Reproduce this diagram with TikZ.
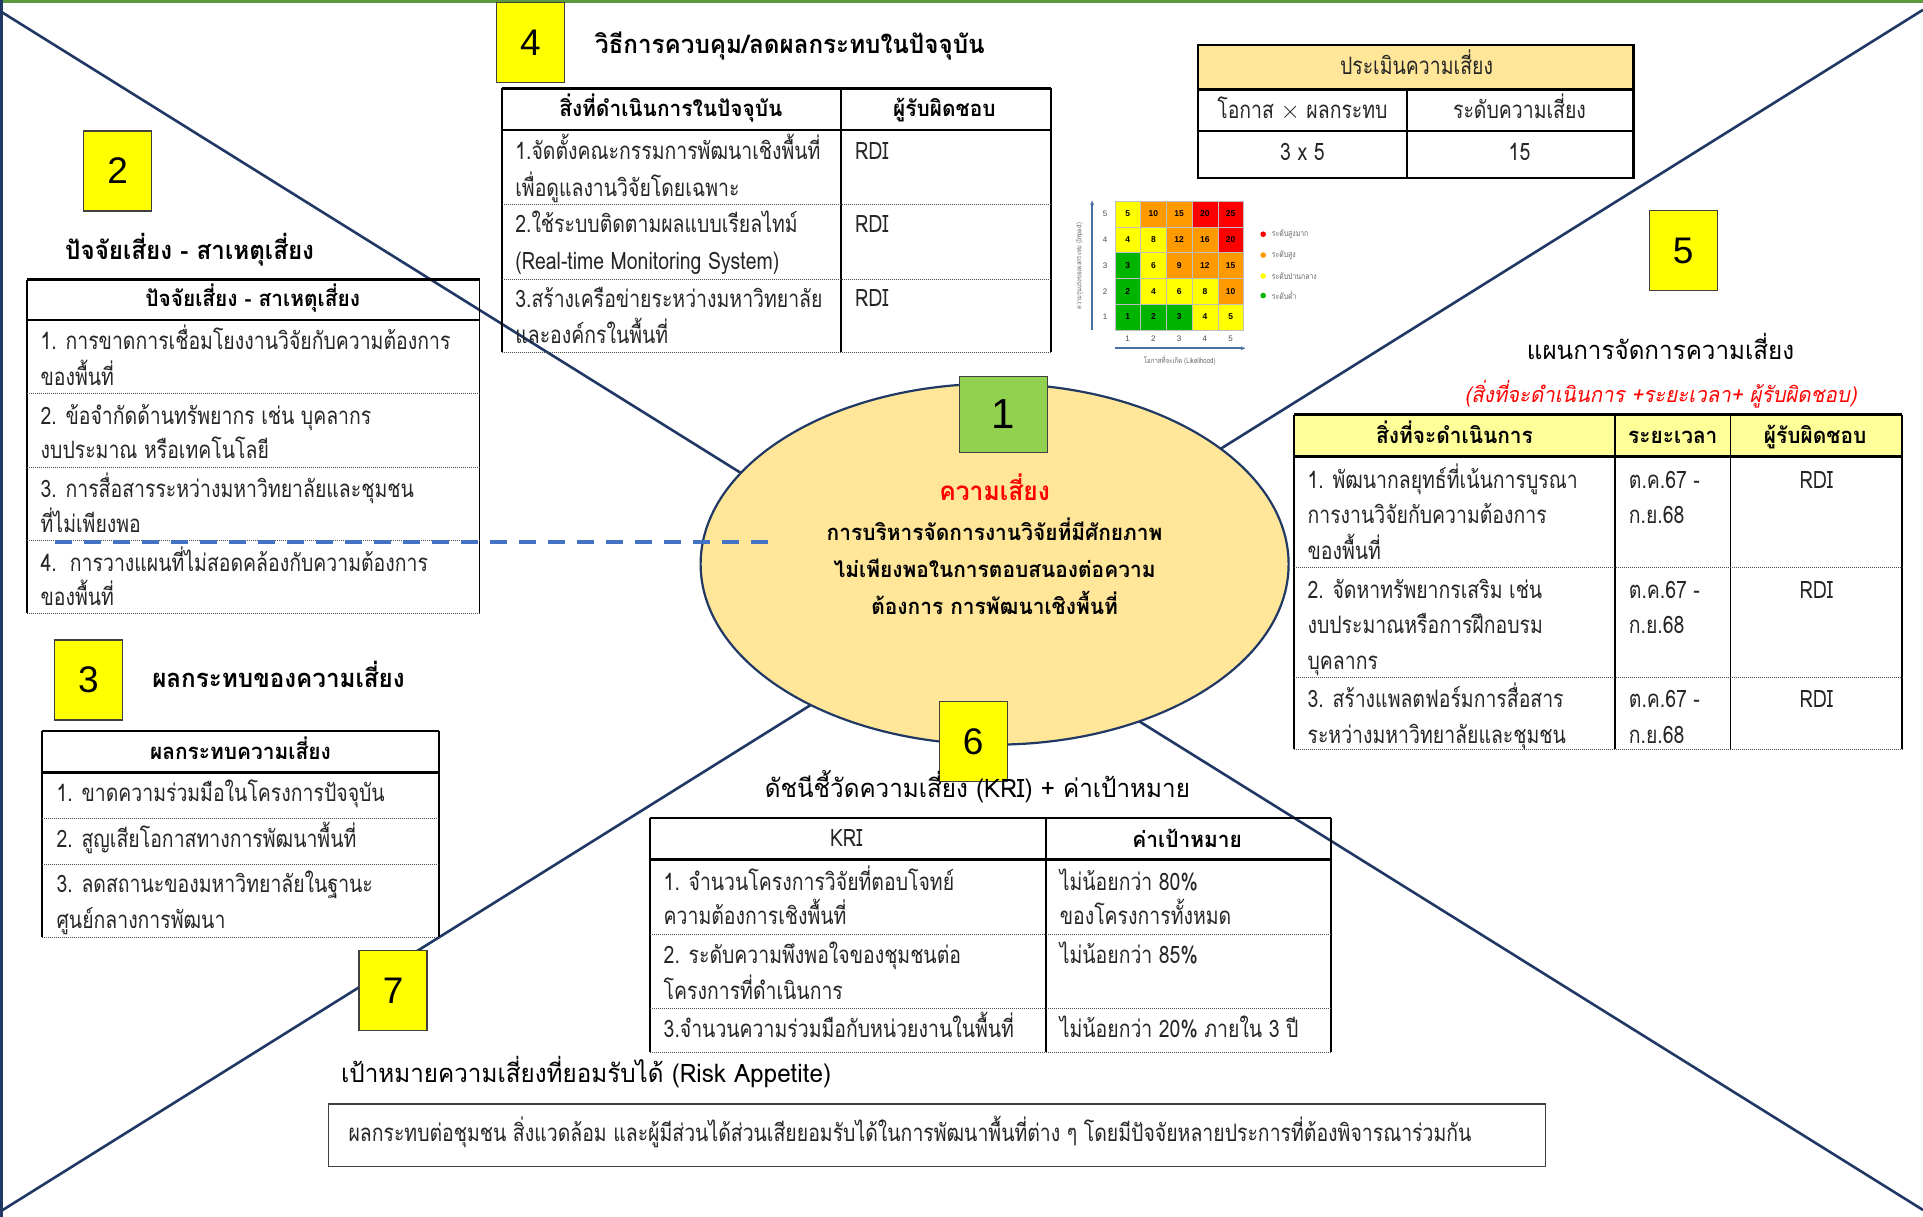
\documentclass[tikz,border=0pt]{standalone}
\usepackage{fontspec}
\setmainfont{Loma}[Script=Thai]
\newfontfamily\thaiN{Loma}[Script=Thai,FakeStretch=0.81]
\newfontfamily\thaiH{Loma}[Script=Thai,FakeStretch=0.95]
\newfontfamily\arl{Liberation Sans}
\usetikzlibrary{shapes.geometric,arrows.meta}
\definecolor{navy}{HTML}{1F3864}
\definecolor{ellfill}{HTML}{FFE699}
\definecolor{hdrY}{HTML}{FFFF99}
\definecolor{boxG}{HTML}{92D050}
\definecolor{dashB}{HTML}{4472C4}
\definecolor{topG}{HTML}{5A9A3C}
\definecolor{mY}{HTML}{FFFF00}
\definecolor{mO}{HTML}{FF9900}
\definecolor{mR}{HTML}{FF0000}
\definecolor{mG}{HTML}{00B400}
\definecolor{axisB}{HTML}{4A6FA5}
\definecolor{txtc}{HTML}{262626}
\newcommand\bodyf{\thaiN\fontsize{24}{28}\selectfont}
\newcommand\headf{\thaiH\bfseries\fontsize{22}{26}\selectfont}
\newcommand\titlef{\thaiH\bfseries\fontsize{25.5}{30}\selectfont}
\newcommand\titlerf{\thaiH\fontsize{25.5}{30}\selectfont}
\begin{document}
\begin{tikzpicture}[x=1.2264pt,y=-1.2264pt,
  every node/.style={inner sep=0pt},
  tx/.style={text height=0.5em, text depth=0pt, yshift=-6pt},
  bt/.style={tx, font=\bodyf, text=txtc, anchor=west},
  bc/.style={bt, anchor=center},
  hd/.style={tx, font=\headf, text=black, anchor=center},
  ttl/.style={tx, font=\titlef, text=black, anchor=west},
  tb/.style={line width=1.8pt, black},
  tth/.style={line width=2.6pt, black},
  tdot/.style={line width=0.9pt, black!70, dash pattern=on 1pt off 1pt},
  xline/.style={navy, line width=2.6pt},
  numbox/.style={draw=black!75, line width=1.3pt, fill=mY, minimum width=68pt, minimum height=80pt, font=\arl\fontsize{37}{37}\selectfont},
  mnum/.style={font=\arl\bfseries\fontsize{8.5}{9}\selectfont},
  axn/.style={font=\arl\fontsize{8}{9}\selectfont, text=black!70},
  lgd/.style={font=\thaiN\fontsize{8.5}{9}\selectfont, text=black!60, anchor=west}
]
\useasboundingbox (0,0) rectangle (1568,992.3);
% frame lines
\coordinate (fTL) at (0,0); \coordinate (fTR) at (1568,0); \coordinate (fBL) at (0,992.3);
\draw[topG, line width=6pt] (fTL) -- (fTR);
\draw[navy, line width=5pt] (fTL) -- (fBL);
% X lines
\coordinate (xa1) at (0,9); \coordinate (xa2) at (1568,986.6);
\coordinate (xb1) at (0,988); \coordinate (xb2) at (1568,8);
\draw[xline] (xa1) -- (xa2);
\draw[xline] (xb1) -- (xb2);

% central ellipse
\node[ellipse, draw=navy, fill=ellfill, line width=2.2pt, minimum width=588pt, minimum height=361pt] (ell) at (811,460) {};
\node[tx, font=\thaiH\bfseries\fontsize{26}{30}\selectfont, text=mR] (risk) at (811,401) {ความเสี่ยง};
\node[hd] (r1) at (811,434) {การบริหารจัดการงานวิจัยที่มีศักยภาพ};
\node[hd] (r2) at (811,464) {ไม่เพียงพอในการตอบสนองต่อความ};
\node[hd] (r3) at (811,494) {ต้องการ การพัฒนาเชิงพื้นที่};
\node[numbox, fill=boxG, minimum width=88pt, minimum height=76pt, font=\arl\fontsize{42}{42}\selectfont] (b1) at (818,338) {1};

% ---------- section 4 ----------
\node[numbox] (b4) at (432.5,34.5) {4};
\node[ttl] (t4) at (485,37) {วิธีการควบคุม/ลดผลกระทบในปัจจุบัน};
\draw[tth] (409,72) -- (857,72);
\draw[tb] (409,72) -- (409,287);
\draw[tb] (686,72) -- (686,287);
\draw[tb] (857,72) -- (857,287);
\draw[tth] (409,106) -- (857,106);
\draw[tdot] (409,167) -- (857,167);
\draw[tdot] (409,228) -- (857,228);
\draw[tdot] (409,287) -- (857,287);
\node[hd] (h4a) at (547,88) {สิ่งที่ดำเนินการในปัจจุบัน};
\node[hd] (h4b) at (770,88) {ผู้รับผิดชอบ};
\node[bt] (c4a1) at (420,123) {1.จัดตั้งคณะกรรมการพัฒนาเชิงพื้นที่};
\node[bt] (c4a2) at (420,153) {เพื่อดูแลงานวิจัยโดยเฉพาะ};
\node[bt] (c4b1) at (420,183) {2.ใช้ระบบติดตามผลแบบเรียลไทม์};
\node[bt] (c4b2) at (420,213) {(Real-time Monitoring System)};
\node[bt] (c4c1) at (420,244) {3.สร้างเครือข่ายระหว่างมหาวิทยาลัย};
\node[bt] (c4c2) at (420,273) {และองค์กรในพื้นที่};
\node[bt] (d4a) at (697,123) {RDI};
\node[bt] (d4b) at (697,183) {RDI};
\node[bt] (d4c) at (697,243) {RDI};

% ---------- section 2 ----------
\node[numbox] (b2) at (96,139.5) {2};
\node[ttl] (t2) at (53,205) {ปัจจัยเสี่ยง - สาเหตุเสี่ยง};
\draw[tth] (22,228) -- (391,228);
\draw[tb] (22,228) -- (22,500);
\draw[tb] (391,228) -- (391,500);
\draw[tth] (22,261) -- (391,261);
\draw[tdot] (22,321) -- (391,321);
\draw[tdot] (22,381) -- (391,381);
\draw[tdot] (22,441) -- (391,441);
\draw[tdot] (22,500) -- (391,500);
\node[hd] (h2) at (206,243) {ปัจจัยเสี่ยง - สาเหตุเสี่ยง};
\node[bt] (c2a1) at (33,278) {1. การขาดการเชื่อมโยงงานวิจัยกับความต้องการ};
\node[bt] (c2a2) at (33,307) {ของพื้นที่};
\node[bt] (c2b1) at (33,339) {2. ข้อจำกัดด้านทรัพยากร เช่น บุคลากร};
\node[bt] (c2b2) at (33,367) {งบประมาณ หรือเทคโนโลยี};
\node[bt] (c2c1) at (33,399) {3. การสื่อสารระหว่างมหาวิทยาลัยและชุมชน};
\node[bt] (c2c2) at (33,427) {ที่ไม่เพียงพอ};
\node[bt] (c2d1) at (33,459) {4.\ \ การวางแผนที่ไม่สอดคล้องกับความต้องการ};
\node[bt] (c2d2) at (33,487) {ของพื้นที่};
% dashed link
\coordinate (dsA) at (45,442); \coordinate (dsB) at (630,442);
\draw[dashB, line width=3.3pt, dash pattern=on 17pt off 12pt] (dsA) -- (dsB);

% ---------- section 3 ----------
\node[numbox] (b3) at (72,554.5) {3};
\node[ttl] (t3) at (124,554) {ผลกระทบของความเสี่ยง};
\draw[tth] (34,596) -- (358,596);
\draw[tb] (34,596) -- (34,764);
\draw[tb] (358,596) -- (358,764);
\draw[tth] (34,630) -- (358,630);
\draw[tdot] (34,667) -- (358,667);
\draw[tdot] (34,705) -- (358,705);
\draw[tdot] (34,764) -- (358,764);
\node[hd] (h3) at (196,612) {ผลกระทบความเสี่ยง};
\node[bt] (c3a) at (46,647) {1. ขาดความร่วมมือในโครงการปัจจุบัน};
\node[bt] (c3b) at (46,684) {2. สูญเสียโอกาสทางการพัฒนาพื้นที่};
\node[bt] (c3c1) at (46,721) {3. ลดสถานะของมหาวิทยาลัยในฐานะ};
\node[bt] (c3c2) at (46,750) {ศูนย์กลางการพัฒนา};

% ---------- section 7 ----------
\node[numbox] (b7) at (320.5,807.5) {7};
\node[ttl, font=\titlerf] (t7) at (278,876) {เป้าหมายความเสี่ยงที่ยอมรับได้ (Risk Appetite)};
\node[draw=black!75, line width=1.5pt, minimum width=1216.6pt, minimum height=62.5pt] (ap) at (764,925.5) {};
\node[bt, font=\thaiN\fontsize{24}{28}\selectfont] (apt) at (284,924) {ผลกระทบต่อชุมชน สิ่งแวดล้อม และผู้มีส่วนได้ส่วนเสียยอมรับได้ในการพัฒนาพื้นที่ต่าง ๆ โดยมีปัจจัยหลายประการที่ต้องพิจารณาร่วมกัน};

% ---------- section 6 ----------
\node[numbox] (b6) at (793.5,604.5) {6};
\node[ttl, anchor=center, font=\titlerf] (t6) at (797,643) {ดัชนีชี้วัดความเสี่ยง (KRI) + ค่าเป้าหมาย};
\draw[tth] (530,667) -- (1085,667);
\draw[tb] (530,667) -- (530,858);
\draw[tb] (853,667) -- (853,858);
\draw[tb] (1085,667) -- (1085,858);
\draw[tth] (530,701) -- (1085,701);
\draw[tdot] (530,762) -- (1085,762);
\draw[tdot] (530,822) -- (1085,822);
\draw[tdot] (530,858) -- (1085,858);
\node[bc] (h6a) at (690,683) {KRI};
\node[hd] (h6b) at (968,684) {ค่าเป้าหมาย};
\node[bt] (c6a1) at (541,719) {1. จำนวนโครงการวิจัยที่ตอบโจทย์};
\node[bt] (c6a2) at (541,747) {ความต้องการเชิงพื้นที่};
\node[bt] (c6b1) at (541,779) {2. ระดับความพึงพอใจของชุมชนต่อ};
\node[bt] (c6b2) at (541,808) {โครงการที่ดำเนินการ};
\node[bt] (c6c) at (541,839) {3.จำนวนความร่วมมือกับหน่วยงานในพื้นที่};
\node[bt] (d6a1) at (864,719) {ไม่น้อยกว่า 80\%};
\node[bt] (d6a2) at (864,747) {ของโครงการทั้งหมด};
\node[bt] (d6b) at (864,779) {ไม่น้อยกว่า 85\%};
\node[bt] (d6c) at (864,839) {ไม่น้อยกว่า 20\% ภายใน 3 ปี};

% ---------- evaluation table ----------
\fill[ellfill] (977,37) rectangle (1332,73);
\draw[line width=2.2pt] (977,37) rectangle (1332,145);
\draw[line width=2.2pt] (977,73) -- (1332,73);
\draw[line width=2.2pt] (977,107) -- (1332,107);
\draw[line width=2.2pt] (1147,73) -- (1147,145);
\node[bc] (e1) at (1155,54) {ประเมินความเสี่ยง};
\node[bc] (e2) at (1062,90) {โอกาส $\times$ ผลกระทบ};
\node[bc] (e3) at (1239,90) {ระดับความเสี่ยง};
\node[bc] (e4) at (1062,124) {3 x 5};
\node[bc] (e5) at (1239,124) {15};

% ---------- risk matrix ----------
\foreach \c [count=\k from 0] in {mY,mO,mO,mR,mR, mY,mY,mO,mO,mR, mG,mY,mO,mO,mO, mG,mY,mY,mY,mO, mG,mG,mG,mY,mY}{
  \pgfmathtruncatemacro\ii{int(\k/5)}
  \pgfmathtruncatemacro\jj{mod(\k,5)}
  \pgfmathtruncatemacro\vv{(5-\ii)*(\jj+1)}
  \fill[\c, draw=black!25, line width=0.6pt] (909+21*\jj,164+21*\ii) rectangle ++(21,21);
  \node[mnum] (m\k) at (919.5+21*\jj,174.5+21*\ii) {\vv};
}
\foreach \n [count=\k from 0] in {5,4,3,2,1}{
  \node[axn] (ay\k) at (901,174.5+21*\k) {\n};
}
\foreach \n [count=\k from 0] in {1,2,3,4,5}{
  \node[axn] (ax\k) at (919.5+21*\k,276) {\n};
}
\coordinate (yaA) at (890.5,269); \coordinate (yaB) at (890.5,163);
\coordinate (xaA) at (909,284); \coordinate (xaB) at (1016,284);
\draw[axisB, line width=1.6pt, -{Latex[length=5pt,width=4pt]}] (yaA) -- (yaB);
\draw[axisB, line width=1.6pt, -{Latex[length=5pt,width=4pt]}] (xaA) -- (xaB);
\node[font=\thaiN\fontsize{7}{8}\selectfont, text=black!60, rotate=90] (ylab) at (880.5,217) {ความรุนแรงของผลกระทบ (Impact)};
\node[font=\thaiN\fontsize{7.5}{8}\selectfont, text=black!60] (xlab) at (962,294) {โอกาสที่จะเกิด (Likelihood)};
\fill[mR] (1030,191) circle (2.3);
\fill[mO] (1030,208) circle (2.3);
\fill[mY] (1030,225) circle (2.3);
\fill[mG] (1030,241) circle (2.3);
\node[lgd] (l1) at (1037,191) {ระดับสูงมาก};
\node[lgd] (l2) at (1037,208) {ระดับสูง};
\node[lgd] (l3) at (1037,225) {ระดับปานกลาง};
\node[lgd] (l4) at (1037,241) {ระดับต่ำ};

% ---------- section 5 ----------
\node[numbox] (b5) at (1372.5,204.5) {5};
\node[ttl, anchor=center, font=\titlerf] (t5) at (1354,286) {แผนการจัดการความเสี่ยง};
\node[tx, font=\thaiH\itshape\fontsize{21.5}{26}\selectfont, text=mR] (s5) at (1354,321) {(สิ่งที่จะดำเนินการ +ระยะเวลา+ ผู้รับผิดชอบ)};
\fill[hdrY] (1055,338) rectangle (1551,372);
\draw[tth] (1055,338) -- (1551,338);
\draw[tb] (1055,338) -- (1055,611);
\draw[tb] (1317,338) -- (1317,611);
\draw[tb] (1411,338) -- (1411,611);
\draw[tb] (1551,338) -- (1551,611);
\draw[tth] (1055,372) -- (1551,372);
\draw[tdot] (1055,463) -- (1551,463);
\draw[tdot] (1055,552) -- (1551,552);
\draw[tdot] (1055,611) -- (1551,611);
\node[hd] (h5a) at (1186,355) {สิ่งที่จะดำเนินการ};
\node[hd] (h5b) at (1364,355) {ระยะเวลา};
\node[hd] (h5c) at (1480,355) {ผู้รับผิดชอบ};
\node[bt] (c5a1) at (1066,391) {1. พัฒนากลยุทธ์ที่เน้นการบูรณา};
\node[bt] (c5a2) at (1066,420) {การงานวิจัยกับความต้องการ};
\node[bt] (c5a3) at (1066,449) {ของพื้นที่};
\node[bt] (c5b1) at (1066,481) {2. จัดหาทรัพยากรเสริม เช่น};
\node[bt] (c5b2) at (1066,510) {งบประมาณหรือการฝึกอบรม};
\node[bt] (c5b3) at (1066,539) {บุคลากร};
\node[bt] (c5c1) at (1066,570) {3. สร้างแพลตฟอร์มการสื่อสาร};
\node[bt] (c5c2) at (1066,599) {ระหว่างมหาวิทยาลัยและชุมชน};
\node[bt] (p5a1) at (1328,391) {ต.ค.67 -};
\node[bt] (p5a2) at (1328,420) {ก.ย.68};
\node[bt] (p5b1) at (1328,481) {ต.ค.67 -};
\node[bt] (p5b2) at (1328,510) {ก.ย.68};
\node[bt] (p5c1) at (1328,570) {ต.ค.67 -};
\node[bt] (p5c2) at (1328,599) {ก.ย.68};
\node[bc] (q5a) at (1481,391) {RDI};
\node[bc] (q5b) at (1481,481) {RDI};
\node[bc] (q5c) at (1481,570) {RDI};
\end{tikzpicture}
\end{document}
